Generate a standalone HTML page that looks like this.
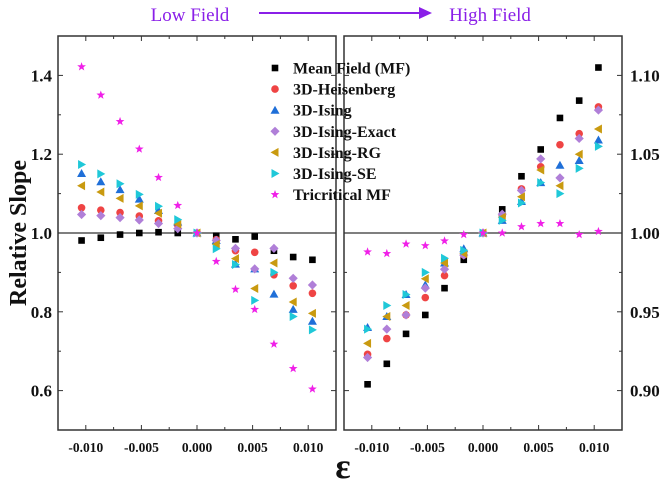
<!DOCTYPE html>
<html><head><meta charset="utf-8"><style>
html,body{margin:0;padding:0;background:#fff;width:660px;height:486px;overflow:hidden}
svg{display:block;font-family:"Liberation Serif",serif}
</style></head><body>
<svg id="chart" width="660" height="486" viewBox="0 0 660 486"></svg>
<script>
const eps = [-0.01038,-0.00865,-0.00692,-0.00519,-0.00346,-0.00173,0,0.00173,0.00346,0.00519,0.00692,0.00865,0.01038];
const seriesNames = ["Mean Field (MF)","3D-Heisenberg","3D-Ising","3D-Ising-Exact","3D-Ising-RG","3D-Ising-SE","Tricritical MF"];
const lowMF   = [0.981,0.988,0.996,1.000,1.002,1.000,1,0.993,0.984,0.991,0.955,0.939,0.932];
const lowHeis = [1.064,1.058,1.052,1.043,1.031,1.020,1,0.983,0.955,0.951,0.894,0.866,0.847];
const lowIsing= [1.151,1.130,1.110,1.086,1.057,1.028,1,0.981,0.921,0.909,0.845,0.806,0.776];
const lowExact= [1.047,1.044,1.039,1.033,1.024,1.011,1,0.981,0.961,0.909,0.961,0.885,0.868];
const lowRG   = [1.120,1.104,1.088,1.069,1.050,1.023,1,0.971,0.935,0.859,0.924,0.825,0.796];
const lowSE   = [1.174,1.150,1.125,1.098,1.068,1.034,1,0.960,0.920,0.829,0.900,0.788,0.754];
const lowTri  = [1.422,1.350,1.283,1.213,1.141,1.070,1,0.928,0.857,0.806,0.718,0.656,0.604];
const highMF   = [0.904,0.917,0.936,0.948,0.965,0.983,1,1.015,1.036,1.053,1.073,1.084,1.105];
const highHeis = [0.923,0.933,0.948,0.959,0.973,0.986,1,1.011,1.028,1.042,1.056,1.063,1.080];
const highIsing= [0.940,0.947,0.961,0.967,0.981,0.990,1,1.008,1.020,1.032,1.043,1.046,1.059];
const highExact= [0.921,0.939,0.948,0.965,0.977,0.986,1,1.012,1.027,1.047,1.035,1.060,1.078];
const highRG   = [0.930,0.947,0.954,0.971,0.981,0.987,1,1.010,1.023,1.040,1.030,1.050,1.066];
const highSE   = [0.939,0.954,0.961,0.975,0.984,0.989,1,1.008,1.019,1.032,1.025,1.041,1.055];
const highTri  = [0.988,0.987,0.993,0.992,0.995,0.999,1,1.000,1.004,1.006,1.006,0.999,1.001];
const xTicks = [-0.010,-0.005,0.000,0.005,0.010];
const xTickLabels = ["-0.010","-0.005","0.000","0.005","0.010"];
const leftYTicks = [0.6,0.8,1.0,1.2,1.4];
const leftYLabels = ["0.6","0.8","1.0","1.2","1.4"];
const rightYTicks = [0.90,0.95,1.00,1.05,1.10];
const rightYLabels = ["0.90","0.95","1.00","1.05","1.10"];

const NS="http://www.w3.org/2000/svg";
const svg=document.getElementById('chart');
function mk(tag,attrs,parent){const e=document.createElementNS(NS,tag);for(const k in attrs)e.setAttribute(k,attrs[k]);(parent||svg).appendChild(e);return e;}
const colors=["#000000","#ef4444","#1f6fd8","#b07fd8","#c99a10","#1fc8d8","#f020e8"];
const shapes=["square","circle","up","diamond","left","right","star"];
function marker(g,shape,cx,cy,col){
  let e;
  if(shape==="square") e=mk('rect',{x:cx-3.3,y:cy-3.3,width:6.6,height:6.6,fill:col},g);
  else if(shape==="circle") e=mk('circle',{cx:cx,cy:cy,r:3.8,fill:col},g);
  else if(shape==="up") e=mk('polygon',{points:`${cx},${cy-4.5} ${cx+4.5},${cy+3.5} ${cx-4.5},${cy+3.5}`,fill:col},g);
  else if(shape==="diamond") e=mk('polygon',{points:`${cx},${cy-4.6} ${cx+4.6},${cy} ${cx},${cy+4.6} ${cx-4.6},${cy}`,fill:col},g);
  else if(shape==="left") e=mk('polygon',{points:`${cx-4.5},${cy} ${cx+3.5},${cy-4.5} ${cx+3.5},${cy+4.5}`,fill:col},g);
  else if(shape==="right") e=mk('polygon',{points:`${cx+4.5},${cy} ${cx-3.5},${cy-4.5} ${cx-3.5},${cy+4.5}`,fill:col},g);
  else {let p=[];for(let i=0;i<10;i++){const r=i%2?1.9:4.6;const a=-Math.PI/2+i*Math.PI/5;p.push((cx+r*Math.cos(a)).toFixed(2)+","+(cy+r*Math.sin(a)).toFixed(2));}
    e=mk('polygon',{points:p.join(' '),fill:col},g);}
  return e;
}
function panel(name,x0,x1,y0,y1,ymin,ymax,yTicks,yLabels,yMinorStep,labelSide,data){
  const g=mk('g',{});
  
  
  const xs=v=>x0+(v+0.0125)/0.025*(x1-x0);
  const ys=v=>y1-(v-ymin)/(ymax-ymin)*(y1-y0);
  const rl=mk('line',{x1:x0,x2:x1,y1:ys(1),y2:ys(1),stroke:'#333','stroke-width':1.2},g);
  
  
  const fr=mk('rect',{x:x0,y:y0,width:x1-x0,height:y1-y0,fill:'none',stroke:'#333','stroke-width':1.5},g);
  
  
  for(let v=-0.0125;v<=0.01251;v+=0.0025){
    const isMaj=Math.abs(Math.round(v/0.005)*0.005-v)<1e-6;
    if(Math.abs(Math.abs(v)-0.0125)<1e-6) continue;
    const L=isMaj?5:3,x=xs(v);
    mk('line',{x1:x,x2:x,y1:y1,y2:y1-L,stroke:'#333','stroke-width':1},g);
    mk('line',{x1:x,x2:x,y1:y0,y2:y0+L,stroke:'#333','stroke-width':1},g);
  }
  xTicks.forEach((v,i)=>{const t=mk('text',{x:xs(v),y:y1+22,'text-anchor':'middle','font-size':13.5,'font-weight':'bold',fill:'#111'},g);t.textContent=xTickLabels[i];
    
    });
  for(let v=ymin+yMinorStep;v<ymax-1e-9;v+=yMinorStep){
    const isMaj=yTicks.some(t=>Math.abs(t-v)<1e-6);const L=isMaj?5:3,y=ys(v);
    mk('line',{x1:x0,x2:x0+L,y1:y,y2:y,stroke:'#333','stroke-width':1},g);
    mk('line',{x1:x1,x2:x1-L,y1:y,y2:y,stroke:'#333','stroke-width':1},g);
  }
  yTicks.forEach((v,i)=>{const t=mk('text',{x:labelSide==='left'?x0-6:x1+8,y:ys(v)+6,'text-anchor':labelSide==='left'?'end':'start','font-size':17,'font-weight':'bold',fill:'#111'},g);t.textContent=yLabels[i];
    
    });
  data.forEach((arr,s)=>{
    const sg=mk('g',{},g);
    
    
    arr.forEach((v,i)=>{const m=marker(sg,shapes[s],xs(eps[i]),ys(v),colors[s]);
      
      });
  });
}
panel('low-field-panel',58,336,36,430,0.5,1.5,leftYTicks,leftYLabels,0.1,'left',[lowMF,lowHeis,lowIsing,lowExact,lowRG,lowSE,lowTri]);
panel('high-field-panel',344,622,36,430,0.875,1.125,rightYTicks,rightYLabels,0.025,'right',[highMF,highHeis,highIsing,highExact,highRG,highSE,highTri]);
const lg=mk('g',{});


seriesNames.forEach((n,i)=>{
  const y=68+i*21.1;
  const e=mk('g',{},lg);
  
  
  marker(e,shapes[i],275,y,colors[i]);
  const t=mk('text',{x:293,y:y+5.5,'font-size':16,'font-weight':'bold',fill:'#111'},e);t.textContent=n;
});
</script>
<div style="position:absolute;left:0;top:0;width:660px;height:486px;pointer-events:none">
<svg width="660" height="486" style="position:absolute;left:0;top:0">
<text x="190" y="21" font-size="19" fill="#8a1fe8" font-family="Liberation Serif,serif" text-anchor="middle">Low Field</text>
<g><line x1="259" y1="13" x2="423" y2="13" stroke="#8a1fe8" stroke-width="2"/><polygon points="432,13 419,7 419,19" fill="#8a1fe8"/></g>
<text x="490" y="21" font-size="19" fill="#8a1fe8" font-family="Liberation Serif,serif" text-anchor="middle">High Field</text>
<text transform="translate(26,233) rotate(-90)" font-size="24" font-weight="bold" fill="#111" font-family="Liberation Serif,serif" text-anchor="middle">Relative Slope</text>
<text x="343" y="478" font-size="36" font-weight="bold" fill="#111" font-family="Liberation Serif,serif" text-anchor="middle">ε</text>
</svg></div>
</body></html>
